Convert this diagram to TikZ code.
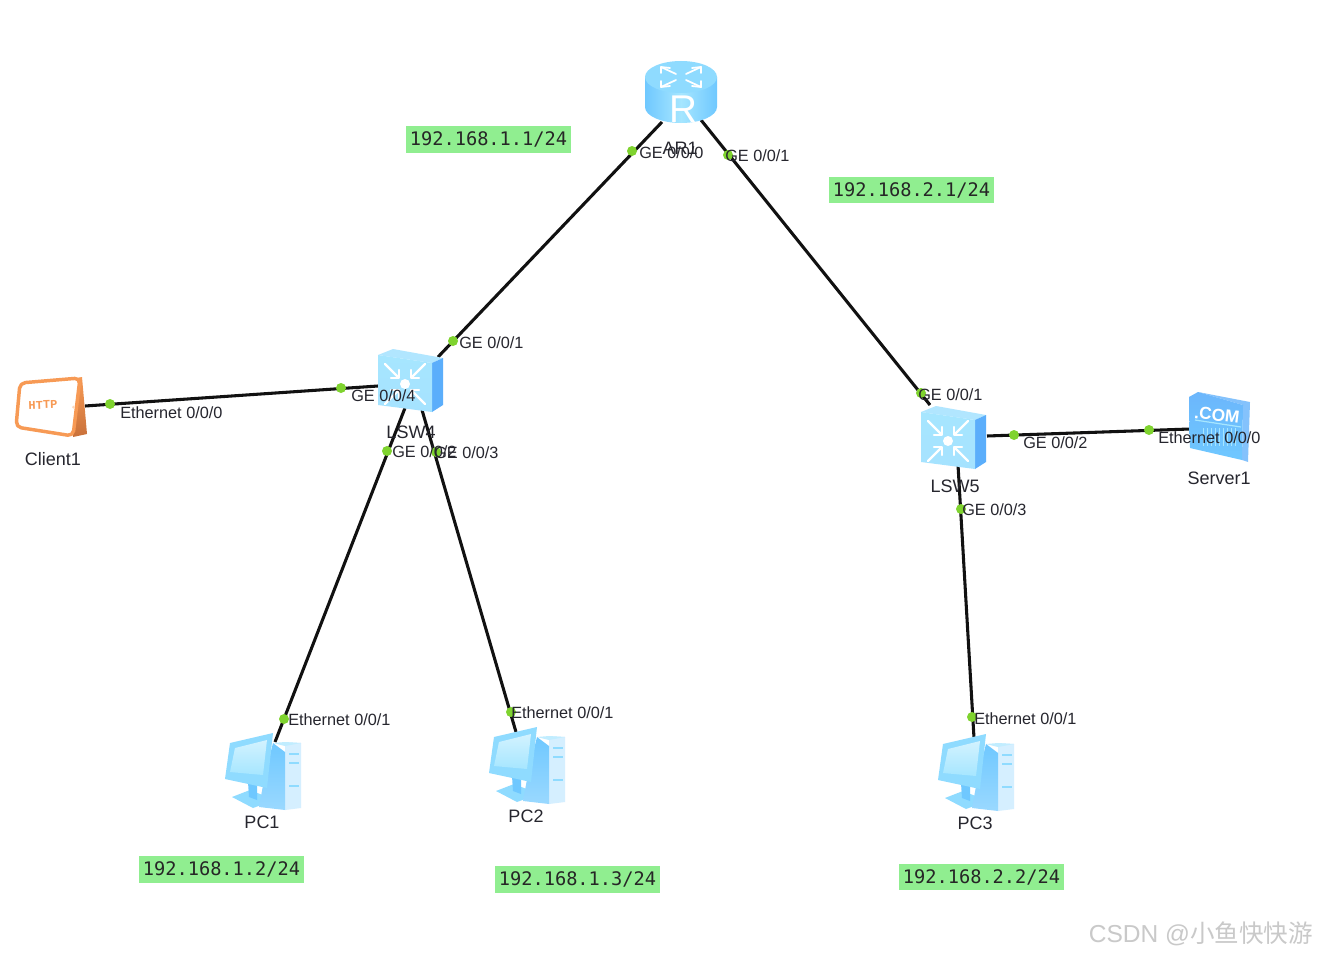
\documentclass[tikz,border=0pt]{standalone}
\usepackage{fontspec}
\setmainfont{Liberation Sans}
\newfontfamily\ipfont{DejaVu Sans Mono}
\newfontfamily\httpfont{Liberation Mono}
\newfontfamily\cjk{Noto Sans CJK SC}
\definecolor{linkc}{HTML}{111111}
\definecolor{dotc}{HTML}{7FD32F}
\definecolor{ipc}{HTML}{90EE90}
\definecolor{txtc}{HTML}{26262E}
\definecolor{wmc}{HTML}{C9C9C9}
\definecolor{cyA}{HTML}{A6E6FF}
\definecolor{cyB}{HTML}{6FC8FF}
\definecolor{cyC}{HTML}{8FDBFF}
\definecolor{blA}{HTML}{5BAEFB}
\definecolor{paleB}{HTML}{D5EFFF}
\definecolor{orA}{HTML}{F79A55}
\definecolor{orB}{HTML}{C9713A}
\tikzset{
  link/.style={draw=linkc,line width=2.3pt},
  port/.style={circle,fill=dotc,inner sep=0pt,minimum size=7.5pt},
  iflabel/.style={anchor=west,inner sep=0pt,yshift=-0.75pt,text=txtc,font=\fontsize{12.2pt}{14pt}\selectfont},
  devlabel/.style={inner sep=0pt,yshift=-0.5pt,text=txtc,font=\fontsize{13.5pt}{15pt}\selectfont},
  iplabel/.style={fill=ipc,inner sep=0pt,minimum width=123.75pt,minimum height=20pt,text=black!85,font=\ipfont\fontsize{14pt}{16pt}\selectfont},
  wline/.style={draw=white,line width=1.7pt,line cap=round,line join=round},
  pics/router/.style={code={
    \path[left color=cyB,right color=cyB,middle color=cyA] (-36,-15) -- (-36,15) arc[start angle=180,end angle=0,x radius=36,y radius=16] -- (36,-15) -- cycle;
    \fill[cyC] (0,-15) ellipse[x radius=36,y radius=16];
    \foreach \sx/\sy in {-1/-1,1/-1,-1/1,1/1}{
      \draw[wline,line width=1.3pt] (\sx*5,-15+\sy*3) -- (\sx*20,-15+\sy*10);
      \draw[wline,line width=1.3pt] (\sx*11,-15+\sy*9) -- (\sx*20,-15+\sy*10) -- (\sx*20,-15+\sy*4);
    }
    \node[text=white,inner sep=0pt,font=\fontsize{29pt}{29pt}\selectfont] at (2,17) {R};
  }},
  pics/switchbox/.style={code={
    \fill[cyC!70!white] (-33,-25) -- (-18,-31) -- (32,-22) -- (21,-17) -- cycle;
    \fill[blA] (21,-17) -- (32,-22) -- (32,25) -- (21,32) -- cycle;
    \path[top color=cyA,bottom color=cyC!80!white] (-33,-25) -- (21,-17) -- (21,32) -- (-33,25) -- cycle;
    \foreach \sx/\sy in {-1/-1,1/-1,-1/1,1/1}{
      \draw[wline] (-6+\sx*20,4+\sy*20) -- (-6+\sx*7,4+\sy*7);
      \draw[wline] (-6+\sx*14,4+\sy*6) -- (-6+\sx*6,4+\sy*6) -- (-6+\sx*6,4+\sy*14);
    }
    \fill[white] (-6,4) circle[radius=5];
  }},
  pics/clientbox/.style={code={
    \path[top color=orA,bottom color=orB] (76,-31) -- (82,-32) -- (87,25) -- (73,28) -- cycle;
    \draw[orA,fill=white,line width=2.6pt,rounded corners=4pt,line join=round] (20,-26) -- (80,-31) -- (73,27) -- (16,18) -- cycle;
    \fill[orA!40!white] (73.5,-2) circle[radius=1.5];
    \node[rotate=2,text=orA,inner sep=0pt,font=\httpfont\bfseries\fontsize{9pt}{10pt}\selectfont] at (43,-4) {HTTP};
  }},
  pics/pcbox/.style={code={
    \fill[paleB] (23,-28) -- (39,-27) -- (39,38) -- (23,40) -- cycle;
    \fill[cyA!70!white] (11,-27) -- (23,-28) -- (39,-27) -- (23,-24) -- cycle;
    \foreach \yy in {-16,-7,16}{\draw[cyC,line width=.8pt] (27,\yy) -- (37,\yy);}
    \fill[cyC] (-30,27) -- (-9,38) -- (13,30) -- (-12,20) -- cycle;
    \fill[cyB] (-14,12) -- (-5,12) -- (-5,30) -- (-13,27) -- cycle;
    \path[top color=cyB,bottom color=cyB!70!white] (11,-27) -- (23,-18) -- (23,40) -- (-3,37) -- (2,10) -- cycle;
    \fill[cyC] (-32,-27) -- (11,-37) -- (5,18) -- (-37,9) -- cycle;
    \path[top color=cyA!50!white,bottom color=cyA] (-27,-22) -- (5,-30) -- (1,5) -- (-32,2) -- cycle;
  }},
  pics/serverbox/.style={code={
    \fill[blA!75!white] (-21,-28) -- (31,-18) -- (29,42) -- (23,40) -- (24,-15) -- cycle;
    \path[top color=blA!90!white,bottom color=cyB] (-30,-23) -- (-21,-28) -- (24,-15) -- (23,40) -- (-29,28) -- cycle;
    \foreach \xx in {-16,-12,...,18}{\draw[cyA,line width=.6pt] (\xx,8) -- (\xx,26);}
    \draw[cyA,line width=.9pt] (-24,0) -- (22,7);
    \node[rotate=-7,text=white,inner sep=0pt,font=\bfseries\fontsize{13pt}{14pt}\selectfont] at (-2,-5) {.COM};
  }},
}
\begin{document}
\begin{tikzpicture}[x=0.75pt,y=-0.75pt]
\useasboundingbox[fill=white] (0,0) rectangle (1317,956);
% connector ends
\coordinate (ar1sw4) at (662,122);
\coordinate (sw4ar1) at (438,357);
\coordinate (ar1sw5) at (701,120);
\coordinate (sw5ar1) at (930,405);
\coordinate (cl1) at (85,406);
\coordinate (sw4cl) at (378,386);
\coordinate (sw4pc1) at (405,408);
\coordinate (pc1up) at (275,742);
\coordinate (sw4pc2) at (422,410);
\coordinate (pc2up) at (516,732);
\coordinate (sw5srv) at (987,436);
\coordinate (srvl) at (1190,429);
\coordinate (sw5pc3) at (958,465);
\coordinate (pc3up) at (974,738);
% links
\draw[link] (ar1sw4) -- (sw4ar1);
\draw[link] (ar1sw5) -- (sw5ar1);
\draw[link] (cl1) -- (sw4cl);
\draw[link] (sw4pc1) -- (pc1up);
\draw[link] (sw4pc2) -- (pc2up);
\draw[link] (sw5srv) -- (srvl);
\draw[link] (sw5pc3) -- (pc3up);
% devices
\pic at (681,92) {router};
\pic at (411,380) {switchbox};
\pic at (954,437) {switchbox};
\pic at (0,409) {clientbox};
\pic at (262,770) {pcbox};
\pic at (526,764) {pcbox};
\pic at (975,771) {pcbox};
\pic at (1219,420) {serverbox};
% port dots
\node[port] (p1) at (632,151) {};
\node[port] (p2) at (728,155) {};
\node[port] (p3) at (453,341) {};
\node[port] (p4) at (341,388) {};
\node[port] (p5) at (387,451) {};
\node[port] (p6) at (436,452) {};
\node[port] (p7) at (110,404) {};
\node[port] (p8) at (284,719) {};
\node[port] (p9) at (511,712) {};
\node[port] (p10) at (921,393) {};
\node[port] (p11) at (1014,435) {};
\node[port] (p12) at (1149,430) {};
\node[port] (p13) at (961,509) {};
\node[port] (p14) at (972,717) {};
% device labels
\node[devlabel] (lar1) at (680,148) {AR1};
\node[devlabel] (lsw4) at (411,432) {LSW4};
\node[devlabel] (lsw5) at (955,486) {LSW5};
\node[devlabel] (lcl) at (53,458) {Client1};
\node[devlabel] (lsrv) at (1219,478) {Server1};
\node[devlabel] (lpc1) at (262,822) {PC1};
\node[devlabel] (lpc2) at (526,816) {PC2};
\node[devlabel] (lpc3) at (975,823) {PC3};
% interface labels
\node[iflabel] (i1) at (639,152) {GE 0/0/0};
\node[iflabel] (i2) at (725,155) {GE 0/0/1};
\node[iflabel] (i3) at (459,342) {GE 0/0/1};
\node[iflabel] (i4) at (351,395) {GE 0/0/4};
\node[iflabel] (i5) at (392,451) {GE 0/0/2};
\node[iflabel] (i6) at (434,452) {GE 0/0/3};
\node[iflabel] (i7) at (120,412) {Ethernet 0/0/0};
\node[iflabel] (i8) at (288,719) {Ethernet 0/0/1};
\node[iflabel] (i9) at (511,712) {Ethernet 0/0/1};
\node[iflabel] (i10) at (918,394) {GE 0/0/1};
\node[iflabel] (i11) at (1023,442) {GE 0/0/2};
\node[iflabel] (i12) at (1158,437) {Ethernet 0/0/0};
\node[iflabel] (i13) at (962,509) {GE 0/0/3};
\node[iflabel] (i14) at (974,718) {Ethernet 0/0/1};
% addresses
\node[iplabel] (ip1) at (488.5,139.5) {192.168.1.1/24};
\node[iplabel] (ip2) at (911.5,190) {192.168.2.1/24};
\node[iplabel] (ip3) at (221.5,869.5) {192.168.1.2/24};
\node[iplabel] (ip4) at (577.5,879.5) {192.168.1.3/24};
\node[iplabel] (ip5) at (981.5,877) {192.168.2.2/24};
% watermark
\node[anchor=east,inner sep=0pt,text=wmc,font=\fontsize{18.4pt}{22pt}\selectfont] (wm) at (1313,934) {CSDN @{\cjk 小鱼快快游}};
\end{tikzpicture}
\end{document}
